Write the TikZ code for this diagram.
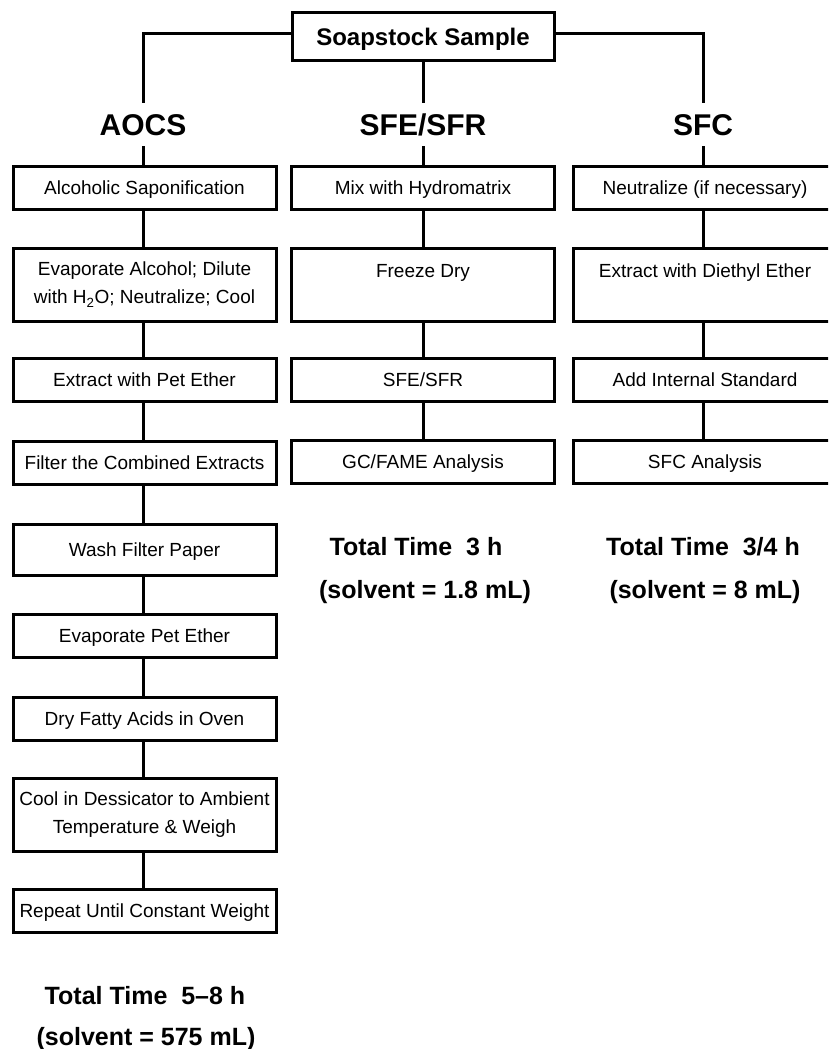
\documentclass[tikz,border=0pt]{standalone}
\usepackage{fontspec}
\setmainfont{Liberation Sans}
\begin{document}
\begin{tikzpicture}[x=1pt,y=-1pt,
  boxbase/.style={draw, line width=3pt, minimum width=263pt, inner sep=0pt, align=center, font=\fontsize{19}{28}\selectfont},
  stepbox/.style={boxbase, minimum height=43pt, text height=13.6pt, text depth=0pt},
  tallbox/.style={boxbase, minimum height=73pt},
  head/.style={font=\fontsize{30}{32}\selectfont\bfseries, inner sep=0pt, minimum height=43pt, text height=21.5pt, text depth=0pt},
  topbox/.style={draw, line width=3pt, minimum width=262pt, minimum height=48pt, inner sep=0pt, text height=17.2pt, text depth=0pt, font=\fontsize{24}{28}\selectfont\bfseries},
  tot/.style={font=\fontsize{25}{30}\selectfont\bfseries, inner sep=0pt, text height=18pt, text depth=0pt},
  conn/.style={line width=3pt}]
\useasboundingbox (0,0) rectangle (828,1049);
\clip (0,0) rectangle (828,1049);

% top
\node[topbox] (soap) at (423,37) {Soapstock Sample};
\node[head] (aocs) at (143,124.5) {AOCS};
\node[head] (sfe) at (423,124.5) {SFE/SFR};
\node[head] (sfc) at (703,124.5) {SFC};
\draw[conn] ([yshift=3pt]soap.west) -| (aocs.north);
\draw[conn] ([yshift=3pt]soap.east) -| (sfc.north);
\draw[conn] (soap.south) -- (sfe.north);

% AOCS column
\node[stepbox] (a1) at (144.5,187.5) {Alcoholic Saponification};
\node[tallbox] (a2) at (144.5,284.5) {Evaporate Alcohol; Dilute\\with H\textsubscript{2}O; Neutralize; Cool};
\node[stepbox] (a3) at (144.5,380) {Extract with Pet Ether};
\node[stepbox] (a4) at (144.5,462.5) {Filter the Combined Extracts};
\node[stepbox, minimum height=51pt] (a5) at (144.5,549.5) {Wash Filter Paper};
\node[stepbox] (a6) at (144.5,635.5) {Evaporate Pet Ether};
\node[stepbox] (a7) at (144.5,719) {Dry Fatty Acids in Oven};
\node[tallbox] (a8) at (144.5,815) {Cool in Dessicator to Ambient\\Temperature \& Weigh};
\node[stepbox] (a9) at (144.5,910.5) {Repeat Until Constant Weight};
\node[tot] (at1) at (145,995) {Total Time\ \ 5–8 h};
\node[tot] (at2) at (146,1036) {(solvent = 575 mL)};

% SFE/SFR column
\node[stepbox] (b1) at (423,187.5) {Mix with Hydromatrix};
\node[tallbox] (b2) at (423,284.5) {Freeze Dry\\\mbox{}};
\node[stepbox] (b3) at (423,380) {SFE/SFR};
\node[stepbox] (b4) at (423,462) {GC/FAME Analysis};
\node[tot] (bt1) at (416,546) {Total Time\ \ 3 h};
\node[tot] (bt2) at (425,589) {(solvent = 1.8 mL)};

% SFC column
\node[stepbox] (c1) at (705,187.5) {Neutralize (if necessary)};
\node[tallbox] (c2) at (705,284.5) {Extract with Diethyl Ether\\\mbox{}};
\node[stepbox] (c3) at (705,380) {Add Internal Standard};
\node[stepbox] (c4) at (705,462) {SFC Analysis};
\node[tot] (ct1) at (703,546) {Total Time\ \ 3/4 h};
\node[tot] (ct2) at (705,589) {(solvent = 8 mL)};

% connectors
\draw[conn] (aocs.south) -- (aocs.south |- a1.north);
\draw[conn] (sfe.south) -- (sfe.south |- b1.north);
\draw[conn] (sfc.south) -- (sfc.south |- c1.north);
\foreach \p/\q in {a1/a2,a2/a3,a3/a4,a4/a5,a5/a6,a6/a7,a7/a8,a8/a9}{
  \draw[conn] (aocs.south |- \p.south) -- (aocs.south |- \q.north);
}
\foreach \p/\q in {b1/b2,b2/b3,b3/b4}{
  \draw[conn] (sfe.south |- \p.south) -- (sfe.south |- \q.north);
}
\foreach \p/\q in {c1/c2,c2/c3,c3/c4}{
  \draw[conn] (sfc.south |- \p.south) -- (sfc.south |- \q.north);
}
\end{tikzpicture}
\end{document}
